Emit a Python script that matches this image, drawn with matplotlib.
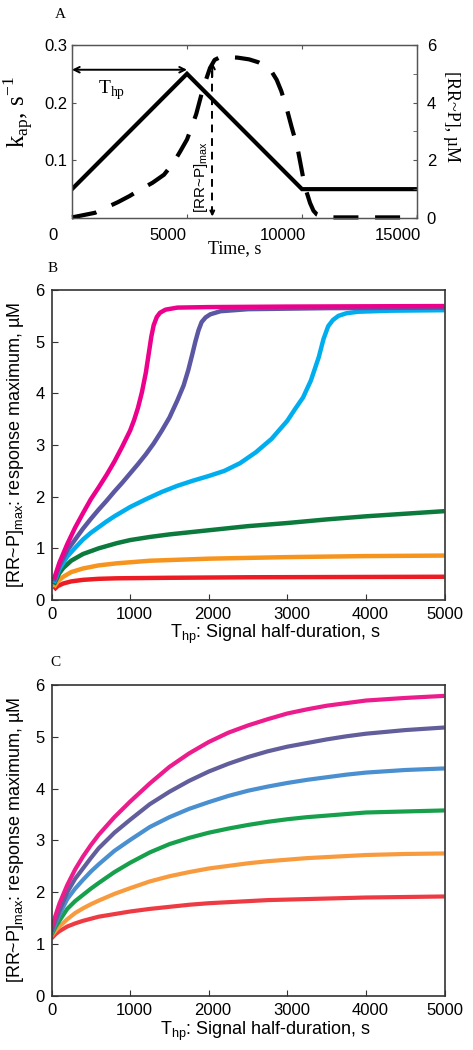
import matplotlib
matplotlib.use("Agg")
import matplotlib.pyplot as plt
import matplotlib.transforms as mtransforms

# ---------------- Panel A data ----------------
a_time_kap = [0, 5000, 10000, 15000]
a_kap = [0.05, 0.25, 0.05, 0.05]
a_time_rr = [0, 1000, 2000, 2500, 3000, 3500, 4000, 4400, 4700, 5000, 5200, 5400,
             5700, 6000, 6200, 6400, 6700, 7200, 7700, 8100, 8450, 8700, 8900, 9100,
             9350, 9550, 9800, 10050, 10200, 10350, 10500, 10650, 10900, 11200, 15000]
a_rr = [0.02, 0.18, 0.55, 0.76, 1.0, 1.22, 1.5, 1.9, 2.3, 2.72, 3.15, 3.6,
        4.5, 5.2, 5.48, 5.56, 5.58, 5.56, 5.5, 5.4, 5.25, 5.05, 4.79, 4.4,
        3.75, 3.15, 2.45, 1.4, 0.9, 0.52, 0.25, 0.12, 0.04, 0.02, 0.02]
a_xticks = [0, 5000, 10000, 15000]
a_yticks_left = [0.1, 0.2, 0.3]
a_yticks_right = [0, 2, 4, 6]

# ---------------- Panel B data ----------------
b_mag_x = [30, 100, 200, 300, 400, 500, 600, 700, 800, 900, 1000, 1050, 1100, 1150, 1200,
           1240, 1270, 1300, 1340, 1380, 1450, 1600, 2000, 3000, 5000]
b_mag_y = [0.40, 0.72, 1.08, 1.40, 1.68, 1.95, 2.18, 2.42, 2.68, 2.97, 3.28, 3.48, 3.72, 4.02, 4.40,
           4.80, 5.10, 5.32, 5.48, 5.56, 5.62, 5.66, 5.67, 5.68, 5.69]
b_pur_x = [30, 100, 200, 300, 400, 500, 600, 700, 800, 900, 1000, 1100, 1200, 1300, 1400,
           1500, 1600, 1680, 1740, 1790, 1830, 1870, 1910, 1960, 2020, 2150, 2500, 3500, 5000]
b_pur_y = [0.36, 0.66, 0.96, 1.17, 1.38, 1.57, 1.75, 1.92, 2.10, 2.27, 2.45, 2.63, 2.82, 3.03, 3.27,
           3.53, 3.86, 4.15, 4.45, 4.75, 5.00, 5.22, 5.38, 5.47, 5.53, 5.59, 5.63, 5.65, 5.66]
b_cya_x = [30, 100, 200, 300, 400, 500, 600, 700, 800, 900, 1000, 1200, 1400, 1600, 1800,
           2000, 2200, 2400, 2600, 2800, 3000, 3100, 3200, 3300, 3400, 3460, 3520, 3580,
           3650, 3750, 3900, 4300, 5000]
b_cya_y = [0.33, 0.60, 0.84, 1.01, 1.17, 1.30, 1.41, 1.52, 1.62, 1.71, 1.80, 1.95, 2.09, 2.21, 2.31,
           2.40, 2.50, 2.65, 2.86, 3.12, 3.47, 3.70, 3.92, 4.25, 4.70, 5.05, 5.30, 5.42,
           5.50, 5.55, 5.58, 5.60, 5.61]
b_grn_x = [30, 100, 150, 250, 400, 600, 830, 1000, 1250, 1500, 1750, 2000, 2500, 3000, 3500, 4000, 4500, 5000]
b_grn_y = [0.30, 0.52, 0.62, 0.76, 0.89, 1.00, 1.10, 1.16, 1.22, 1.27, 1.31, 1.35, 1.43, 1.49, 1.56, 1.62, 1.67, 1.72]
b_org_x = [30, 80, 150, 250, 400, 600, 830, 1250, 2000, 3000, 4000, 5000]
b_org_y = [0.25, 0.36, 0.45, 0.54, 0.61, 0.67, 0.71, 0.76, 0.80, 0.83, 0.85, 0.86]
b_red_x = [30, 80, 150, 250, 400, 600, 830, 1500, 2500, 5000]
b_red_y = [0.20, 0.27, 0.32, 0.36, 0.39, 0.41, 0.42, 0.43, 0.44, 0.45]

# ---------------- Panel C data ----------------
c_x = [0, 50, 100, 200, 300, 400, 500, 600, 800, 1000, 1250, 1500, 1750, 2000,
       2250, 2500, 2750, 3000, 3250, 3500, 3750, 4000, 4500, 5000]
c_mag = [1.30, 1.55, 1.78, 2.14, 2.44, 2.69, 2.91, 3.11, 3.45, 3.75, 4.10, 4.42, 4.68, 4.90,
         5.08, 5.22, 5.34, 5.45, 5.53, 5.60, 5.65, 5.70, 5.75, 5.79]
c_pur = [1.24, 1.45, 1.64, 2.00, 2.26, 2.46, 2.66, 2.85, 3.15, 3.40, 3.70, 3.94, 4.15, 4.33,
         4.48, 4.61, 4.72, 4.81, 4.88, 4.95, 5.01, 5.06, 5.13, 5.18]
c_blu = [1.21, 1.40, 1.57, 1.87, 2.07, 2.24, 2.40, 2.54, 2.80, 3.01, 3.26, 3.45, 3.61, 3.74,
         3.86, 3.96, 4.04, 4.11, 4.17, 4.22, 4.27, 4.31, 4.36, 4.39]
c_grn = [1.18, 1.33, 1.45, 1.68, 1.83, 1.95, 2.07, 2.18, 2.39, 2.57, 2.77, 2.93, 3.05, 3.15,
         3.23, 3.30, 3.36, 3.41, 3.45, 3.48, 3.51, 3.54, 3.56, 3.58]
c_org = [1.16, 1.26, 1.34, 1.48, 1.60, 1.69, 1.77, 1.84, 1.97, 2.08, 2.21, 2.31, 2.39, 2.46,
         2.51, 2.56, 2.60, 2.63, 2.66, 2.68, 2.70, 2.72, 2.74, 2.75]
c_red = [1.11, 1.19, 1.25, 1.34, 1.40, 1.45, 1.49, 1.53, 1.58, 1.63, 1.68, 1.72, 1.76, 1.79,
         1.81, 1.83, 1.85, 1.86, 1.87, 1.88, 1.89, 1.90, 1.91, 1.92]

bc_xticks = [0, 1000, 2000, 3000, 4000, 5000]
bc_yticks = [0, 1, 2, 3, 4, 5, 6]

SANS = "Liberation Sans"
SERIF = "Liberation Serif"

fig = plt.figure(figsize=(4.73, 10.5), dpi=100)

# ================= Panel A =================
axA = fig.add_axes([0.1522, 0.7924, 0.7294, 0.1648])
axA2 = axA.twinx()
axA.plot(a_time_kap, a_kap, color="black", lw=3.0, solid_joinstyle="miter")
lineA, = axA2.plot(a_time_rr, a_rr, color="black", lw=3.0, clip_on=False)
lineA.set_dashes([6, 4])
lineA.set_dash_capstyle("butt")
axA.set_xlim(0, 15000)
axA.set_ylim(0, 0.3)
axA2.set_ylim(0, 6)
axA.set_xticks(a_xticks)
axA.set_xticklabels([str(v) for v in a_xticks], family=SANS, fontsize=12)
axA.set_yticks(a_yticks_left)
axA.set_yticklabels([f"{v:.1f}" for v in a_yticks_left], family=SANS, fontsize=12)
axA2.set_yticks(a_yticks_right)
axA2.set_yticks([1, 3, 5], minor=True)
axA2.set_yticklabels([str(v) for v in a_yticks_right], family=SANS, fontsize=12)
axA.tick_params(axis="x", direction="in", length=3, top=True, pad=7, color="#555555")
axA.tick_params(axis="y", direction="in", length=3, pad=3, color="#555555")
axA2.tick_params(axis="y", which="both", direction="in", length=3, pad=7, color="#555555")
for ax in (axA, axA2):
    for s in ax.spines.values():
        s.set_color("#555555")
        s.set_linewidth(0.9)
offA = mtransforms.ScaledTranslation(-19 / 100, 0, fig.dpi_scale_trans)
for lab in axA.get_xticklabels():
    lab.set_transform(lab.get_transform() + offA)

axA.set_xlabel("Time, s", family=SERIF, fontsize=13)
axA.xaxis.set_label_coords(0.472, -0.125)
axA.set_ylabel(r"k$_{\mathdefault{ap}}$, s$^{\mathdefault{-1}}$", family=SERIF, fontsize=18)
axA.yaxis.set_label_coords(-0.105, 0.61)
axA2.text(1.075, 0.584, "[RR~P], µM", transform=axA2.transAxes, rotation=270,
          ha="left", va="center", family=SERIF, fontsize=13)

# Thp arrow
axA.annotate("", xy=(0, 0.257), xytext=(5000, 0.257),
             arrowprops=dict(arrowstyle="<->", lw=1.4, color="black",
                             shrinkA=0, shrinkB=0, mutation_scale=10))
axA.text(1740, 0.222, r"T$_{\mathdefault{hp}}$", family=SERIF, fontsize=14,
         ha="center", va="center")
# [RR~P]max arrow
axA2.vlines(6100, 0.15, 5.1, colors="black", linestyles=(0, (4, 3)), lw=1.4)
axA2.annotate("", xy=(6100, 5.4), xytext=(6100, 4.9),
              arrowprops=dict(arrowstyle="->", lw=1.4, color="black",
                              shrinkA=0, shrinkB=0, mutation_scale=9))
axA2.annotate("", xy=(6100, 0.05), xytext=(6100, 0.3),
              arrowprops=dict(arrowstyle="->", lw=1.4, color="black",
                              shrinkA=0, shrinkB=0, mutation_scale=7))
axA2.text(5630, 0.17, r"[RR~P]$_{\mathdefault{max}}$", family=SANS, fontsize=11,
          rotation=90, ha="center", va="bottom")

# ================= Panels B and C =================
def style_bc(ax):
    ax.set_xlim(0, 5000)
    ax.set_ylim(0, 6)
    ax.set_xticks(bc_xticks)
    ax.set_xticklabels([str(v) for v in bc_xticks], family=SANS, fontsize=12)
    ax.set_yticks(bc_yticks)
    ax.set_yticklabels([str(v) for v in bc_yticks], family=SANS, fontsize=12)
    ax.tick_params(direction="in", length=4, pad=5, color="#333333", width=0.8)
    for s in ax.spines.values():
        s.set_color("#333333")
        s.set_linewidth(1.2)
    off = mtransforms.ScaledTranslation(4 / 100, 0, fig.dpi_scale_trans)
    for lab in ax.get_xticklabels()[1:-1]:
        lab.set_transform(lab.get_transform() + off)
    ax.set_xlabel(r"T$_{\mathdefault{hp}}$: Signal half-duration, s", family=SANS, fontsize=13)
    ax.set_ylabel(r"[RR~P]$_{\mathdefault{max}}$: response maximum, µM", family=SANS, fontsize=13)

axB = fig.add_axes([0.1089, 0.42857, 0.8309, 0.2952])
lwB = 3.2
kw = dict(solid_capstyle="butt", solid_joinstyle="round")
axB.plot(b_red_x, b_red_y, color="#ED1C24", lw=lwB, **kw)
axB.plot(b_org_x, b_org_y, color="#F7941D", lw=lwB, **kw)
axB.plot(b_grn_x, b_grn_y, color="#0C7A3C", lw=lwB, **kw)
axB.plot(b_cya_x, b_cya_y, color="#00AEEF", lw=lwB, **kw)
axB.plot(b_pur_x, b_pur_y, color="#5B57A3", lw=lwB, **kw)
axB.plot(b_mag_x, b_mag_y, color="#EC008C", lw=lwB, **kw)
style_bc(axB)
axB.xaxis.set_label_coords(0.57, -0.075)
axB.yaxis.set_label_coords(-0.065, 0.5)

axC = fig.add_axes([0.1089, 0.05143, 0.8309, 0.2962])
lwC = 3.0
axC.plot(c_x, c_red, color="#EE3B43", lw=lwC, **kw)
axC.plot(c_x, c_org, color="#F89B3E", lw=lwC, **kw)
axC.plot(c_x, c_grn, color="#17A04B", lw=lwC, **kw)
axC.plot(c_x, c_blu, color="#4A8FD0", lw=lwC, **kw)
axC.plot(c_x, c_pur, color="#615E9B", lw=lwC, **kw)
axC.plot(c_x, c_mag, color="#EC1C8C", lw=lwC, **kw)
style_bc(axC)
axC.xaxis.set_label_coords(0.545, -0.078)
axC.yaxis.set_label_coords(-0.065, 0.5)

# panel letters
fig.text(60 / 473, 1 - 15 / 1050, "A", family=SERIF, fontsize=11, ha="center", va="center")
fig.text(53 / 473, 1 - 268 / 1050, "B", family=SERIF, fontsize=11, ha="center", va="center")
fig.text(55 / 473, 1 - 662 / 1050, "C", family=SERIF, fontsize=11, ha="center", va="center")

fig.savefig("out.png", dpi=100)
